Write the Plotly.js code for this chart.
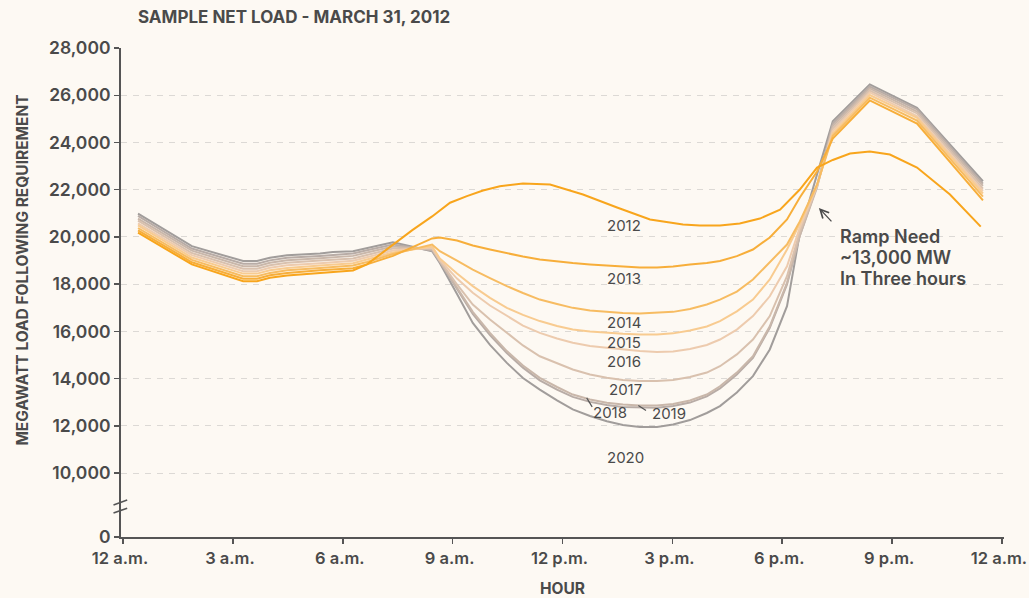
<!DOCTYPE html>
<html>
<head>
<meta charset="utf-8">
<script src="https://cdn.plot.ly/plotly-3.0.1.min.js"></script>
<style>
  html, body { margin: 0; padding: 0; background: #FDF9F3; }
  #chart { width: 1029px; height: 598px; }
</style>
</head>
<body>
<div id="chart"></div>
<script>
// ---------- DATA ----------
// Hour of day (0 = 12 a.m.) for the 2013-2020 series
const hours = [0.41, 1.88, 3.28, 3.66, 4.01, 4.48, 5.38, 5.73, 6.28, 6.66, 7.37, 8.44,
  8.65, 9.12, 9.55, 10.02, 10.48, 10.92, 11.38, 11.85, 12.28, 12.75, 13.21, 13.65,
  14.11, 14.58, 15.02, 15.48, 15.94, 16.30, 16.76, 17.20, 17.66, 18.13, 18.48, 18.95,
  19.38, 20.39, 21.68, 23.48];

// Hour of day for the 2012 series
const hours2012 = [0.41, 1.88, 3.28, 3.66, 4.01, 4.48, 5.38, 5.73, 6.28, 6.66, 7.37, 7.89,
  8.44, 8.93, 9.39, 9.83, 10.29, 10.92, 11.66, 12.56, 13.49, 14.39, 15.29, 15.75, 16.30,
  16.84, 17.39, 17.94, 18.48, 18.95, 19.38, 19.85, 20.39, 20.94, 21.68, 22.58, 23.42];

const load2012 = [20180, 18840, 18130, 18130, 18270, 18370, 18480, 18520, 18580, 18840, 19670, 20280,
  20870, 21450, 21730, 21970, 22150, 22260, 22220, 21800, 21250, 20740, 20530, 20490, 20490,
  20570, 20780, 21160, 22010, 22940, 23260, 23530, 23620, 23490, 22940, 21800, 20440];

const load2013 = [20280, 18930, 18230, 18230, 18380, 18480, 18590, 18620, 18680, 18840, 19200, 19940,
  19980, 19850, 19640, 19470, 19300, 19170, 19050, 18960, 18900, 18840, 18790, 18750,
  18710, 18710, 18750, 18840, 18900, 18980, 19190, 19470, 19980, 20740, 21670, 22770,
  24170, 25780, 24800, 21550];

const load2014 = [20380, 19030, 18340, 18340, 18480, 18590, 18690, 18730, 18790, 18940, 19280, 19680,
  19400, 19000, 18620, 18260, 17920, 17630, 17350, 17160, 17000, 16890, 16820, 16780,
  16760, 16780, 16830, 16950, 17140, 17350, 17690, 18200, 18910, 19680, 20660, 22220,
  24280, 25900, 24930, 21710];

const load2015 = [20490, 19130, 18450, 18450, 18590, 18690, 18790, 18840, 18890, 19050, 19340, 19600,
  19090, 18450, 17920, 17420, 17000, 16700, 16440, 16230, 16080, 16000, 15940, 15900,
  15870, 15870, 15920, 16040, 16210, 16440, 16850, 17350, 18200, 19470, 20570, 22180,
  24380, 26010, 25040, 21840];

const load2016 = [20580, 19230, 18550, 18550, 18700, 18800, 18890, 18940, 18990, 19140, 19430, 19560,
  19030, 18240, 17640, 17100, 16650, 16250, 15940, 15700, 15520, 15390, 15310, 15240,
  15170, 15130, 15150, 15260, 15430, 15660, 16080, 16650, 17490, 18760, 20400, 22180,
  24490, 26120, 25120, 21950];

const load2017 = [20690, 19320, 18660, 18660, 18800, 18910, 19000, 19040, 19090, 19240, 19510, 19510,
  19000, 17990, 17140, 16510, 15940, 15410, 14950, 14650, 14390, 14180, 14040, 13950,
  13900, 13900, 13950, 14070, 14260, 14530, 15030, 15660, 16650, 18340, 20230, 22140,
  24590, 26200, 25230, 22050];

const load2018 = [20780, 19420, 18760, 18760, 18910, 19010, 19100, 19150, 19200, 19340, 19600, 19470,
  18980, 17880, 16830, 15940, 15170, 14560, 14040, 13650, 13330, 13120, 12980, 12910,
  12870, 12870, 12930, 13080, 13330, 13680, 14260, 14950, 16220, 18060, 20060, 22100,
  24700, 26290, 25310, 22160];

const load2019 = [20890, 19510, 18870, 18870, 19010, 19120, 19200, 19250, 19300, 19440, 19680, 19430,
  18960, 17800, 16740, 15850, 15090, 14470, 13930, 13540, 13230, 13020, 12890, 12800,
  12770, 12770, 12850, 12990, 13250, 13590, 14180, 14880, 16150, 17990, 20060, 22180,
  24800, 26370, 25400, 22260];

const load2020 = [20990, 19610, 18980, 18980, 19120, 19230, 19300, 19360, 19400, 19540, 19780, 19400,
  18900, 17590, 16360, 15430, 14670, 14030, 13540, 13080, 12700, 12420, 12200, 12040,
  11960, 11960, 12060, 12250, 12550, 12840, 13420, 14110, 15240, 17070, 20150, 22650,
  24900, 26460, 25470, 22360];

const years = ["2012", "2013", "2014", "2015", "2016", "2017", "2018", "2019", "2020"];

// x-axis ticks
const hourTicks = [0, 3, 6, 9, 12, 15, 18, 21, 24];
const hourLabels = ["12 a.m.", "3 a.m.", "6 a.m.", "9 a.m.", "12 p.m.", "3 p.m.", "6 p.m.", "9 p.m.", "12 a.m."];

// y-axis ticks (broken axis: the "0" label sits below the break)
const loadTicks = [7300, 10000, 12000, 14000, 16000, 18000, 20000, 22000, 24000, 26000, 28000];
const loadLabels = ["0", "10,000", "12,000", "14,000", "16,000", "18,000", "20,000", "22,000", "24,000", "26,000", "28,000"];

// ---------- STYLE ----------
const colors = {
  "2012": "#F8A51C", "2013": "#F7AE3A", "2014": "#F7BC62", "2015": "#F8CB90",
  "2016": "#EDCBAE", "2017": "#D9C1AE", "2018": "#C9B7AA", "2019": "#B8ACA6", "2020": "#A19D9B"
};
const seriesData = {
  "2012": [hours2012, load2012], "2013": [hours, load2013], "2014": [hours, load2014],
  "2015": [hours, load2015], "2016": [hours, load2016], "2017": [hours, load2017],
  "2018": [hours, load2018], "2019": [hours, load2019], "2020": [hours, load2020]
};

const FONT = "Inter, Lato, sans-serif";
const TXT = "#4a4a4a";
const BG = "#FDF9F3";

const traces = years.slice().reverse().map(y => ({
  type: "scatter", mode: "lines", name: y,
  x: seriesData[y][0], y: seriesData[y][1],
  line: { color: colors[y], width: 2, shape: "linear" },
  hoverinfo: "x+y+name"
}));

// year labels (positions of the text, not data)
const labelPos = [
  ["2012", 13.68, 20480], ["2013", 13.68, 18250], ["2014", 13.68, 16390],
  ["2015", 13.68, 15530], ["2016", 13.68, 14720], ["2017", 13.72, 13540],
  ["2018", 13.30, 12570], ["2019", 14.90, 12520], ["2020", 13.72, 10660]
];
const annotations = labelPos.map(p => ({
  x: p[1], y: p[2], xref: "x", yref: "y", text: p[0], showarrow: false,
  font: { family: FONT, size: 15, color: TXT }, xanchor: "center", yanchor: "middle"
}));

const rampLines = [["Ramp Need", 20040], ["~13,000 MW", 19150], ["In Three hours", 18260]];
rampLines.forEach(r => annotations.push({
  x: 19.52, y: r[1], xref: "x", yref: "y", xanchor: "left", yanchor: "middle", align: "left",
  text: r[0], showarrow: false,
  font: { family: FONT, size: 18, color: TXT, weight: 600 }
}));
annotations.push({
  x: 19.0, y: 21230, xref: "x", yref: "y", text: "", showarrow: true,
  ax: 14, ay: 15, arrowhead: 5, arrowsize: 1.3, arrowwidth: 1.3, arrowcolor: TXT
});
annotations.push({
  x: -0.112, y: 0.545, xref: "paper", yref: "paper", textangle: -90,
  text: "MEGAWATT LOAD FOLLOWING REQUIREMENT", showarrow: false,
  font: { family: FONT, size: 15.5, color: TXT, weight: 700 }, xanchor: "center", yanchor: "middle"
});

const shapes = [
  // axis-break marks
  { type: "line", xref: "paper", yref: "paper", x0: -0.0085, y0: 0.0655, x1: 0.0070, y1: 0.0755,
    line: { color: "#555", width: 1.6 } },
  { type: "line", xref: "paper", yref: "paper", x0: -0.0085, y0: 0.0490, x1: 0.0070, y1: 0.0590,
    line: { color: "#555", width: 1.6 } },
  // leader ticks for 2018 / 2019 labels
  { type: "line", xref: "x", yref: "y", x0: 12.66, y0: 13190, x1: 12.81, y1: 12810,
    line: { color: "#555", width: 1.2 } },
  { type: "line", xref: "x", yref: "y", x0: 14.07, y0: 12870, x1: 14.28, y1: 12650,
    line: { color: "#555", width: 1.2 } }
];

const layout = {
  width: 1029, height: 598,
  margin: { l: 121, r: 25, t: 48, b: 61, pad: 0 },
  paper_bgcolor: BG, plot_bgcolor: BG,
  showlegend: false,
  font: { family: FONT, color: TXT },
  title: {
    text: "SAMPLE NET LOAD - MARCH 31, 2012",
    xref: "container", yref: "container",
    x: 138 / 1029, xanchor: "left", y: 1 - 17.5 / 598, yanchor: "middle",
    font: { family: FONT, size: 17, color: TXT, weight: 700 }
  },
  xaxis: {
    range: [-0.055, 24.055], tickvals: hourTicks, ticktext: hourLabels,
    ticks: "outside", ticklen: 5, tickwidth: 1.5, tickcolor: "#555",
    showline: true, linecolor: "#555", linewidth: 2, showgrid: false, zeroline: false,
    ticklabeloverflow: "allow", ticklabelshift: -3,
    tickfont: { family: FONT, size: 16.5, color: TXT, weight: 600 },
    title: { text: "HOUR", standoff: 17, font: { family: FONT, size: 15.5, color: TXT, weight: 700 } },
    fixedrange: true
  },
  yaxis: {
    range: [7300, 28000], tickvals: loadTicks, ticktext: loadLabels,
    ticks: "outside", ticklen: 5, tickwidth: 1.5, tickcolor: "#555",
    showline: true, linecolor: "#555", linewidth: 2, zeroline: false,
    showgrid: true, gridcolor: "#DCD9D5", gridwidth: 1, griddash: "6px,6px",
    tickfont: { family: FONT, size: 17.5, color: TXT, weight: 600 },
    fixedrange: true
  },
  annotations: annotations,
  shapes: shapes
};

Plotly.newPlot("chart", traces, layout, { displayModeBar: false, staticPlot: true });
</script>
</body>
</html>
